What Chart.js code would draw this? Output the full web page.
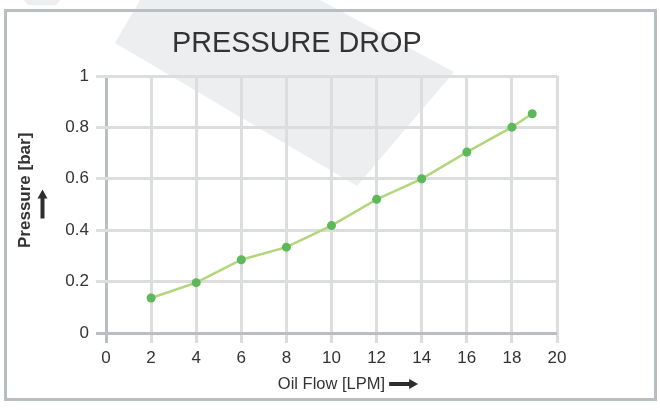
<!DOCTYPE html>
<html>
<head>
<meta charset="utf-8">
<script src="https://cdn.jsdelivr.net/npm/chart.js@4/dist/chart.umd.min.js"></script>
<style>
  html, body { margin: 0; padding: 0; background: #fff; }
  #wrap { position: relative; width: 660px; height: 410px; overflow: hidden; background: #fff; }
  #wm { position: absolute; left: 0; top: 0; width: 660px; height: 410px; background: #edeef0;
        clip-path: polygon(140px 0px, 320px 0px, 454px 72px, 357px 186px, 115px 43px); }
  #wm2 { position: absolute; left: 0; top: 0; width: 660px; height: 410px; background: #edeef0;
        clip-path: polygon(24px 0px, 60px 0px, 56px 5px, 28px 5px); }
  #frame { position: absolute; left: 4px; top: 9px; width: 647px; height: 386px; border: 3px solid #b8bfc2; }
  #title { position: absolute; left: 172px; top: 28px; font-family: 'Liberation Sans', Arial, sans-serif;
           font-size: 28.8px; line-height: 28px; color: #333; white-space: nowrap; }
  canvas { position: absolute; left: 0; top: 0; }
</style>
</head>
<body>
<div id="wrap">
  <div id="wm"></div>
  <div id="wm2"></div>
  <div id="frame"></div>
  <canvas id="c" width="660" height="410"></canvas>
  <div id="title">PRESSURE DROP</div>
</div>
<script>
// Data
const oilFlow = [2, 4, 6, 8, 10, 12, 14, 16, 18, 18.9];      // LPM
const pressure = [0.136, 0.196, 0.285, 0.334, 0.418, 0.52, 0.60, 0.704, 0.801, 0.853]; // bar
const xTitle = 'Oil Flow [LPM]';
const yTitle = '\u0020\u0020\u0020\u0020\u0020\u0020Pressure [bar]';

const points = oilFlow.map((x, i) => ({ x: x, y: pressure[i] }));

const gridColor = '#dcdddd';
const axisColor = '#b8bec1';
const arrowColor = '#2e2e2e';
const tickFont = { family: "'Liberation Sans', Arial, sans-serif", size: 17 };
const xTitleFont = { family: "'Liberation Sans', Arial, sans-serif", size: 16.5, lineHeight: 1.2 };

function drawArrow(ctx, x0, y0, x1, y1) {
  const ang = Math.atan2(y1 - y0, x1 - x0);
  const len = Math.hypot(x1 - x0, y1 - y0);
  ctx.save();
  ctx.translate(x0, y0);
  ctx.rotate(ang);
  ctx.fillStyle = arrowColor;
  ctx.beginPath();
  ctx.moveTo(0, -2);
  ctx.lineTo(len - 9, -2);
  ctx.lineTo(len - 9, -5);
  ctx.lineTo(len, 0);
  ctx.lineTo(len - 9, 5);
  ctx.lineTo(len - 9, 2);
  ctx.lineTo(0, 2);
  ctx.closePath();
  ctx.fill();
  ctx.restore();
}

const arrowPlugin = {
  id: 'titleArrows',
  afterDraw(chart) {
    const ctx = chart.ctx;
    const xs = chart.scales.x, ys = chart.scales.y;
    // arrow after the x-axis title
    ctx.save();
    ctx.font = Chart.helpers.toFont(xTitleFont).string;
    const w = ctx.measureText(xTitle).width;
    ctx.restore();
    const cx = (chart.chartArea.left + chart.chartArea.right) / 2;
    const ax = cx + w / 2 + 4;
    const ay = xs.bottom - 26;
    drawArrow(ctx, ax, ay, ax + 29, ay);
    // arrow beside the y-axis title, pointing up
    const yx = ys.left + 42.5;
    const ymid = (chart.chartArea.top + chart.chartArea.bottom) / 2;
    drawArrow(ctx, yx, ymid + 14, yx, ymid - 15);
  }
};

new Chart(document.getElementById('c'), {
  type: 'line',
  data: {
    datasets: [{
      data: points,
      borderColor: '#b2d67c',
      borderWidth: 2.5,
      pointRadius: 4.5,
      pointBackgroundColor: '#5cb85a',
      pointBorderColor: '#5cb85a',
      pointBorderWidth: 0,
      tension: 0,
      fill: false
    }]
  },
  plugins: [arrowPlugin],
  options: {
    responsive: false,
    animation: false,
    devicePixelRatio: 1,
    layout: { padding: { left: 0, right: 103, top: 76, bottom: 0 } },
    plugins: { legend: { display: false }, tooltip: { enabled: false }, title: { display: false } },
    scales: {
      x: {
        type: 'linear',
        min: 0, max: 20,
        afterFit: s => { s.height = 77; },
        ticks: { stepSize: 2, color: '#333', font: tickFont, padding: 5, maxRotation: 0 },
        grid: {
          color: c => (c.tick && c.tick.value === 0) ? axisColor : gridColor,
          lineWidth: 3,
          tickLength: 10
        },
        border: { display: false },
        title: {
          display: true,
          text: xTitle,
          color: '#333',
          font: xTitleFont,
          padding: { top: 0, bottom: 16 }
        }
      },
      y: {
        type: 'linear',
        min: 0, max: 1,
        afterFit: s => { s.width = 106; },
        ticks: {
          stepSize: 0.2, color: '#333', font: tickFont, padding: 7,
          callback: v => String(Number(v.toFixed(2)))
        },
        grid: {
          color: c => (c.tick && c.tick.value === 0) ? axisColor : gridColor,
          lineWidth: 3,
          tickLength: 10
        },
        border: { display: false },
        title: {
          display: true,
          text: yTitle,
          color: '#333',
          font: { family: "'Liberation Sans', Arial, sans-serif", size: 17, weight: 'bold', lineHeight: 1.2 },
          padding: { top: 15, bottom: 0 }
        }
      }
    }
  }
});
</script>
</body>
</html>
